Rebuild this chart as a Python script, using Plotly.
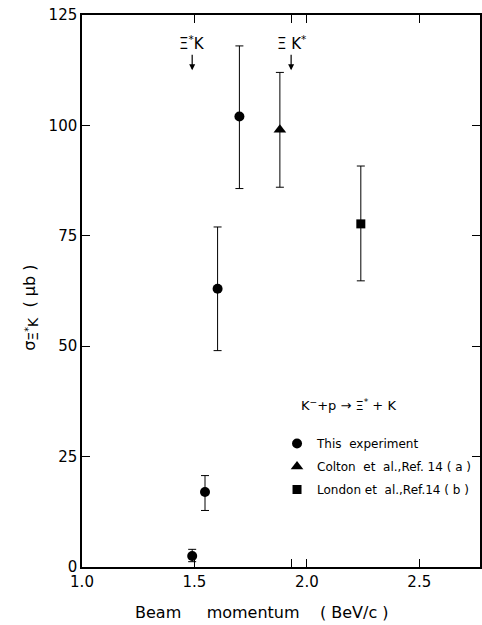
import plotly.graph_objects as go

# ---- data ----
this_x = [1.49, 1.547, 1.603, 1.70]
this_y = [2.5, 17.0, 63.0, 102.0]
this_hi = [4.0, 20.7, 77.0, 118.0]
this_lo = [1.2, 12.8, 49.0, 85.7]

colton_x = [1.88]
colton_y = [99.0]
colton_hi = [112.0]
colton_lo = [86.0]

london_x = [2.24]
london_y = [77.7]
london_hi = [90.8]
london_lo = [64.8]

threshold_x = [1.49, 1.93]
threshold_labels = ["Ξ<sup>*</sup>K", "Ξ K<sup>*</sup>"]
arrow_tip_y = 112.5
arrow_tail_y = 118.6

x_tickvals = [1.0, 1.5, 1.93, 2.0, 2.5]
x_ticktext = ["1.0", "1.5", "", "2.0", "2.5"]
y_tickvals = [0, 25, 50, 75, 100, 125]

FONT = "DejaVu Sans"


def up(y, hi):
    return [h - v for v, h in zip(y, hi)]


def down(y, lo):
    return [v - l for v, l in zip(y, lo)]


fig = go.Figure()

series = [
    ("This  experiment", this_x, this_y, this_hi, this_lo, "circle", 10),
    ("Colton  et  al.,Ref. 14 ( a )", colton_x, colton_y, colton_hi, colton_lo, "triangle-up", 11),
    ("London et  al.,Ref.14 ( b )", london_x, london_y, london_hi, london_lo, "square", 9),
]
for i, (name, xs, ys, hi, lo, sym, sz) in enumerate(series):
    fig.add_trace(go.Scatter(
        x=xs, y=ys, mode="markers", name=name, legendgroup=str(i),
        marker=dict(symbol=sym, size=sz, color="black"),
        error_y=dict(type="data", symmetric=False, array=up(ys, hi),
                     arrayminus=down(ys, lo), color="black", thickness=1, width=4),
    ))

for tx, lab in zip(threshold_x, threshold_labels):
    fig.add_annotation(
        x=tx, y=arrow_tip_y, ax=tx, ay=arrow_tail_y, xref="x", yref="y",
        axref="x", ayref="y", text=lab, showarrow=True, arrowhead=2,
        arrowsize=1, arrowwidth=1.2, arrowcolor="black",
        font=dict(family=FONT, size=15, color="black"),
    )

fig.add_annotation(
    x=0.67, y=0.293, xref="paper", yref="paper", showarrow=False,
    xanchor="center", yanchor="middle",
    text="K<sup>−</sup>+p → Ξ<sup>*</sup> + K",
    font=dict(family=FONT, size=13, color="black"),
)

fig.add_annotation(
    x=-0.13, y=0.47, xref="paper", yref="paper", showarrow=False,
    xanchor="center", yanchor="middle",
    textangle=-90,
    text="σ<sub><span style='font-size:14px'>Ξ<sup>*</sup>K</span></sub>  ( μb )",
    font=dict(family=FONT, size=16, color="black"),
)

fig.add_annotation(
    x=0.4525, y=-0.083, xref="paper", yref="paper", showarrow=False,
    xanchor="center", yanchor="middle",
    text="Beam     momentum    ( BeV/c )",
    font=dict(family=FONT, size=16, color="black"),
)

fig.update_xaxes(
    range=[1.0, 2.77], tickvals=x_tickvals, ticktext=x_ticktext,
    ticks="inside", ticklen=8, tickwidth=1.2, tickcolor="black",
    showline=True, linecolor="black", linewidth=1.5, mirror="ticks",
    showgrid=False, zeroline=False,
    tickfont=dict(family=FONT, size=15, color="black"),
)
fig.update_yaxes(
    range=[0, 125], tickvals=y_tickvals,
    ticks="inside", ticklen=8, tickwidth=1.2, tickcolor="black",
    showline=True, linecolor="black", linewidth=1.5, mirror="ticks",
    showgrid=False, zeroline=False,
    tickfont=dict(family=FONT, size=15, color="black"),
)

fig.update_layout(
    width=482, height=625,
    margin=dict(l=82, r=0, t=15, b=58),
    paper_bgcolor="white", plot_bgcolor="white",
    showlegend=True,
    legend=dict(x=0.49, y=0.25, xanchor="left", yanchor="top",
                font=dict(family=FONT, size=12, color="black"),
                itemwidth=30, tracegroupgap=4, bgcolor="rgba(0,0,0,0)"),
)

fig.write_html("out.html", config={"displayModeBar": False},
               post_script="document.body.style.margin='0';document.body.style.overflow='hidden';")
